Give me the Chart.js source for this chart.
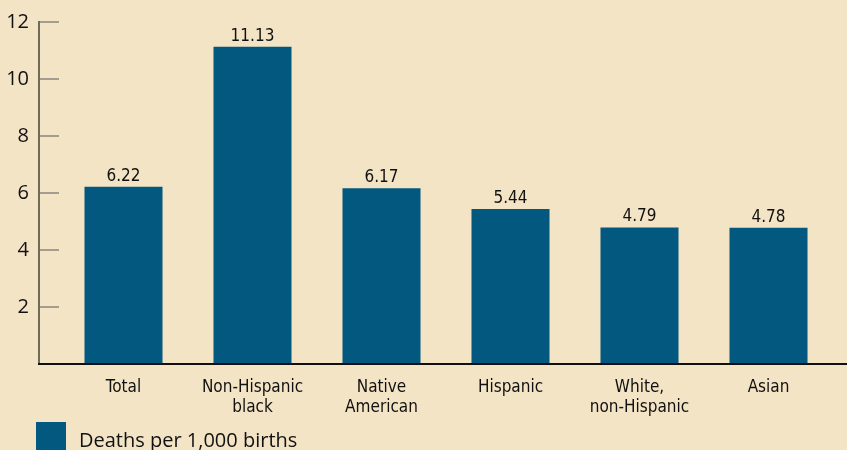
<!DOCTYPE html>
<html>
<head>
<meta charset="utf-8">
<script src="https://cdn.jsdelivr.net/npm/chart.js@4"></script>
<style>
  html, body { margin: 0; padding: 0; background: #f4e4c6; }
  #wrap { width: 847px; height: 450px; position: relative; }
</style>
</head>
<body>
<div id="wrap"><canvas id="chart" width="847" height="450"></canvas></div>
<script>
// Infant deaths per 1,000 births by group
const categories = ['Total', ['Non-Hispanic', 'black'], ['Native', 'American'], 'Hispanic', ['White,', 'non-Hispanic'], 'Asian'];
const deathRates = [6.22, 11.13, 6.17, 5.44, 4.79, 4.78];
const yTicks = [2, 4, 6, 8, 10, 12];

const barColor = '#02587f';
const narrowFont = '"Liberation Sans Narrow", "DejaVu Sans Condensed", "Roboto Condensed", sans-serif';

// value labels above each bar
const valueLabels = {
    id: 'valueLabels',
    afterDatasetsDraw(chart) {
        const c = chart.ctx;
        const meta = chart.getDatasetMeta(0);
        c.save();
        c.font = '17px ' + narrowFont;
        c.fillStyle = '#111';
        c.textAlign = 'center';
        c.textBaseline = 'bottom';
        meta.data.forEach((bar, i) => {
            c.fillText(deathRates[i].toFixed(2), bar.x, bar.y - 2);
        });
        c.restore();
    }
};

// axis lines: y line sits left of the tick marks, x line runs to the edge
const axisLines = {
    id: 'axisLines',
    afterDraw(chart) {
        const c = chart.ctx;
        const area = chart.chartArea;
        const y = chart.scales.y;
        const left = area.left - 20;
        c.save();
        c.strokeStyle = '#6e6a5c';
        c.lineWidth = 2;
        c.beginPath();
        c.moveTo(left, y.getPixelForValue(12) - 1);
        c.lineTo(left, area.bottom);
        c.stroke();
        c.strokeStyle = '#111';
        c.lineWidth = 2;
        c.beginPath();
        c.moveTo(left - 1, area.bottom);
        c.lineTo(chart.width, area.bottom);
        c.stroke();
        c.restore();
    }
};

// legend at the bottom, drawn by hand so it can be cut off like the original
const bottomLegend = {
    id: 'bottomLegend',
    afterDraw(chart) {
        const c = chart.ctx;
        c.save();
        c.fillStyle = barColor;
        c.fillRect(36, 422, 30, 30);
        c.font = '20px "Open Sans", "Noto Sans", sans-serif';
        c.fillStyle = '#111';
        c.textBaseline = 'alphabetic';
        c.fillText(chart.data.datasets[0].label, 79, 447);
        c.restore();
    }
};

new Chart(document.getElementById('chart'), {
    type: 'bar',
    data: {
        labels: categories,
        datasets: [{
            label: 'Deaths per 1,000 births',
            data: deathRates,
            backgroundColor: barColor,
            borderWidth: 0,
            barPercentage: 1,
            categoryPercentage: 0.605
        }]
    },
    options: {
        responsive: false,
        animation: false,
        layout: { padding: { top: 21, right: 14, left: 0, bottom: 0 } },
        plugins: {
            legend: { display: false },
            tooltip: { enabled: false }
        },
        scales: {
            y: {
                min: 0,
                max: 12,
                afterFit(scale) { scale.width = 59; },
                afterBuildTicks(scale) {
                    scale.ticks = yTicks.map(v => ({ value: v }));
                },
                border: { display: false },
                grid: {
                    drawOnChartArea: false,
                    drawTicks: true,
                    tickLength: 20,
                    color: '#a39d90',
                    lineWidth: 2
                },
                ticks: {
                    color: '#111',
                    padding: 10,
                    font: { size: 20, family: '"Open Sans", "Noto Sans", sans-serif' }
                }
            },
            x: {
                afterFit(scale) { scale.height = 86; },
                border: { display: false },
                grid: { display: false },
                ticks: {
                    color: '#111',
                    padding: 6,
                    maxRotation: 0,
                    autoSkip: false,
                    font: { size: 17, family: narrowFont, lineHeight: 1.15 }
                }
            }
        }
    },
    plugins: [valueLabels, axisLines, bottomLegend]
});
</script>
</body>
</html>
